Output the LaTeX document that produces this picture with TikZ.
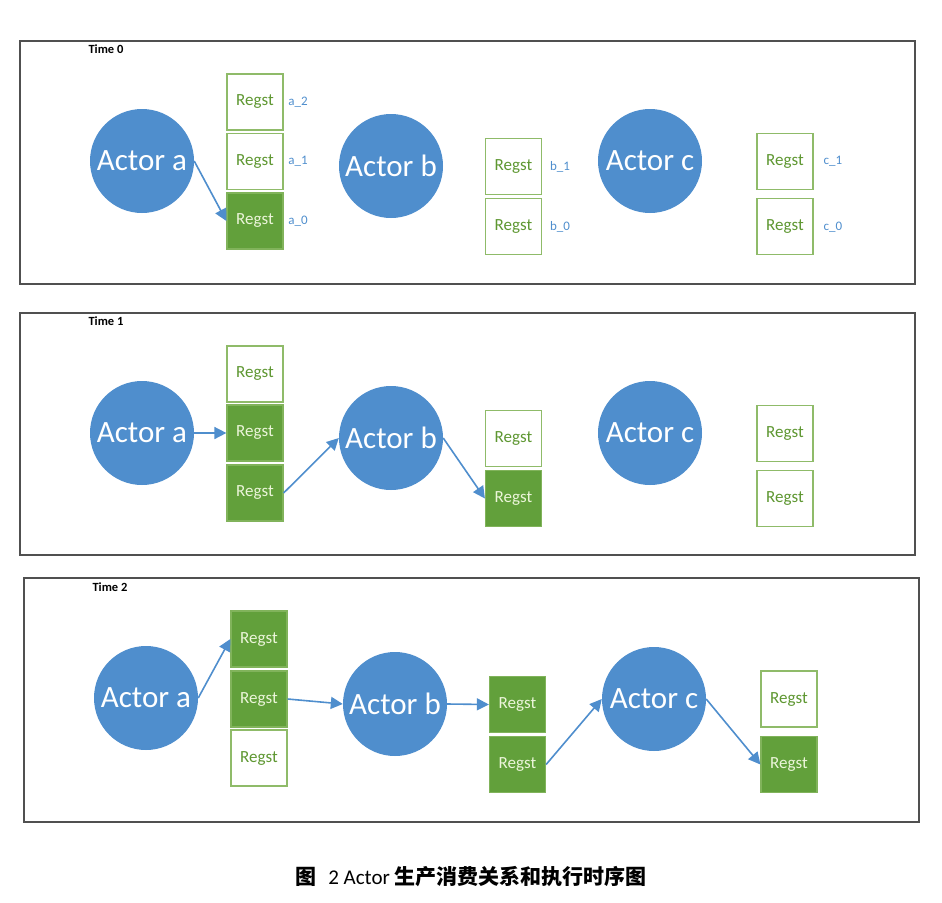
\documentclass[tikz,border=0pt]{standalone}
\usepackage{fontspec}
\setmainfont{Carlito}
\newfontfamily\cjk{Noto Sans CJK SC}
\usetikzlibrary{arrows.meta}
\definecolor{actorblue}{RGB}{79,142,205}
\definecolor{reggreen}{RGB}{98,160,59}
\definecolor{regborder}{RGB}{143,187,105}
\definecolor{regtext}{RGB}{94,151,49}
\definecolor{reglight}{RGB}{236,245,218}
\definecolor{framegray}{RGB}{80,80,80}
\tikzset{
  frame/.style={draw=framegray, line width=1.1pt},
  actor/.style={circle, fill=actorblue, minimum size=104pt, inner sep=0pt, text=white, font=\fontsize{31}{31}\selectfont},
  regw/.style={rectangle, draw=regborder, line width=1.2pt, fill=white, minimum size=56pt, inner sep=0pt, text=regtext, font=\fontsize{17}{17}\selectfont},
  regf/.style={rectangle, draw=regborder!70!reggreen, line width=1.2pt, fill=reggreen, minimum size=56pt, inner sep=0pt, text=reglight, font=\fontsize{17}{17}\selectfont},
  lab/.style={text=actorblue, font=\fontsize{13}{13}\selectfont, inner sep=0pt},
  tlab/.style={font=\bfseries\fontsize{12.5}{12.5}\selectfont, inner sep=0pt},
  arr/.style={draw=actorblue, line width=1.6pt, -{Triangle[width=12pt,length=12pt]}}
}
\begin{document}
\begin{tikzpicture}[x=1pt,y=-1pt]
\useasboundingbox (0,0) rectangle (942,902);
% ---------- Time 0 ----------
\draw[frame] (20,41) rectangle (915,284);
\node[tlab] (t0) at (106,49) {Time 0};
\node[actor] (A1) at (142,161) {Actor a};
\node[actor] (B1) at (391,166) {Actor b};
\node[actor] (C1) at (650,161) {Actor c};
\node[regw] (r1a2) at (255,102) {Regst};
\node[regw] (r1a1) at (255,161.5) {Regst};
\node[regf] (r1a0) at (255,221) {Regst};
\node[regw] (r1b1) at (513.5,166.5) {Regst};
\node[regw] (r1b0) at (513.5,226.5) {Regst};
\node[regw] (r1c1) at (785,161.5) {Regst};
\node[regw] (r1c0) at (785,226.5) {Regst};
\node[lab] (l1a2) at (298,102) {a\_2};
\node[lab] (l1a1) at (298,161) {a\_1};
\node[lab] (l1a0) at (298,221) {a\_0};
\node[lab] (l1b1) at (560,167) {b\_1};
\node[lab] (l1b0) at (560,227) {b\_0};
\node[lab] (l1c1) at (833,161) {c\_1};
\node[lab] (l1c0) at (833,227) {c\_0};
\draw[arr] (A1.east) -- (r1a0.west);
% ---------- Time 1 ----------
\draw[frame] (20,313) rectangle (915,555);
\node[tlab] (t1) at (106,321) {Time 1};
\node[actor] (A2) at (142,433) {Actor a};
\node[actor] (B2) at (391,438) {Actor b};
\node[actor] (C2) at (650,433) {Actor c};
\node[regw] (r2a2) at (255,374) {Regst};
\node[regf] (r2a1) at (255,433) {Regst};
\node[regf] (r2a0) at (255,493) {Regst};
\node[regw] (r2b1) at (513.5,438.5) {Regst};
\node[regf] (r2b0) at (513.5,498.5) {Regst};
\node[regw] (r2c1) at (785,433.5) {Regst};
\node[regw] (r2c0) at (785,498.5) {Regst};
\draw[arr] (A2.east) -- (r2a1.west);
\draw[arr] (r2a0.east) -- (B2.west);
\draw[arr] (B2.east) -- (r2b0.west);
% ---------- Time 2 ----------
\draw[frame] (24,578) rectangle (919,822);
\node[tlab] (t2) at (110,587) {Time 2};
\node[actor] (A3) at (146,698) {Actor a};
\node[actor] (B3) at (395,704) {Actor b};
\node[actor] (C3) at (654,699) {Actor c};
\node[regf] (r3a2) at (259,639) {Regst};
\node[regf] (r3a1) at (259,699) {Regst};
\node[regw] (r3a0) at (259,758) {Regst};
\node[regf] (r3b1) at (517.5,704.5) {Regst};
\node[regf] (r3b0) at (517.5,764.5) {Regst};
\node[regw] (r3c1) at (789,699) {Regst};
\node[regf] (r3c0) at (789,764.5) {Regst};
\draw[arr] (A3.east) -- (r3a2.west);
\draw[arr] (r3a1.east) -- (B3.west);
\draw[arr] (B3.east) -- (r3b1.west);
\draw[arr] (r3b0.east) -- (C3.west);
\draw[arr] (C3.east) -- (r3c0.west);
% ---------- caption ----------
\node[inner sep=0pt, font=\fontsize{21}{21}\selectfont] (cap) at (471,877) {{\cjk\bfseries 图}\hspace{12pt}2 Actor {\cjk\bfseries 生产消费关系和执行时序图}};
\end{tikzpicture}
\end{document}
